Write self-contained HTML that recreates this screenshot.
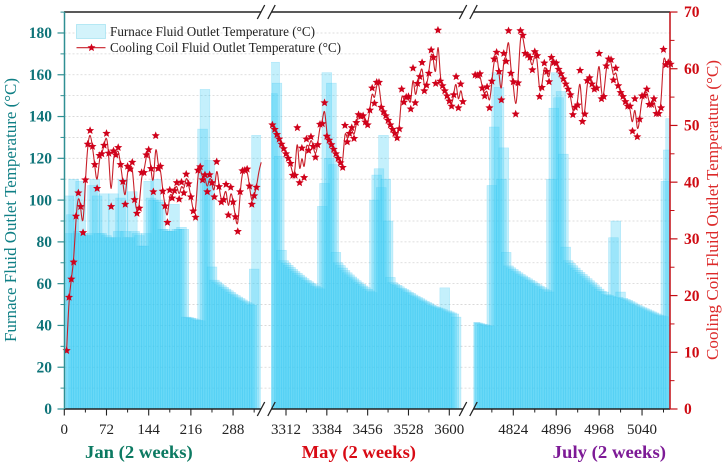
<!DOCTYPE html>
<html lang="en">
<head>
<meta charset="utf-8">
<title>Furnace and Cooling Coil Fluid Outlet Temperature</title>
<style>
html,body{margin:0;padding:0;background:#fff;}
svg{display:block;font-family:"Liberation Serif",serif;}
</style>
</head>
<body>
<svg id="chart" xmlns="http://www.w3.org/2000/svg" width="724" height="468" viewBox="0 0 724 468">
  <g id="grid"></g>
  <g id="bars"></g>
  <g id="lines"></g>
  <g id="stars"></g>
  <g id="axes"></g>
  <g>
    <rect x="76.5" y="24.5" width="29" height="14" fill="#d3f3fb" stroke="#a9e4f3" stroke-width="0.8"/>
    <text x="110" y="36" font-size="13.5" fill="#222" textLength="205" lengthAdjust="spacingAndGlyphs">Furnace Fluid Outlet Temperature (°C)</text>
    <line x1="76.5" y1="47.7" x2="105.5" y2="47.7" stroke="#c8202a" stroke-width="1.1"/>
    <polygon id="legend-star" fill="#d0021b"/>
    <text x="110" y="52" font-size="13.5" fill="#222" textLength="231" lengthAdjust="spacingAndGlyphs">Cooling Coil Fluid Outlet Temperature (°C)</text>
  </g>
  <text transform="translate(16,342) rotate(-90)" font-size="17" fill="#0f7f85" textLength="264" lengthAdjust="spacingAndGlyphs">Furnace Fluid Outlet Temperature (°C)</text>
  <text transform="translate(718,360) rotate(-90)" font-size="17" fill="#dc2a2a" textLength="300" lengthAdjust="spacingAndGlyphs">Cooling Coil Fluid Outlet Temperature (°C)</text>
  <text x="85" y="458" font-size="18" font-weight="bold" fill="#0c7a62" textLength="107.7" lengthAdjust="spacingAndGlyphs">Jan (2 weeks)</text>
  <text x="301.7" y="458" font-size="18" font-weight="bold" fill="#d80a14" textLength="114.3" lengthAdjust="spacingAndGlyphs">May (2 weeks)</text>
  <text x="552.7" y="458" font-size="18" font-weight="bold" fill="#7d1a96" textLength="113.3" lengthAdjust="spacingAndGlyphs">July (2 weeks)</text>
</svg>
<script>
// ---- data ----
const leftTickValues = [0,20,40,60,80,100,120,140,160,180];
const leftMinorValues = [10,30,50,70,90,110,130,150,170,190];
const rightTickValues = [0,10,20,30,40,50,60,70];
const rightMinorValues = [5,15,25,35,45,55,65];
const gridValues = [10,20,30,40,50,60,70,80,90,100,110,120,130,140,150,160,170,180];

const janMajorHours = [0,72,144,216,288];
const janMinorHours = [36,108,180,252,324];
const mayMajorHours = [3312,3384,3456,3528,3600];
const mayMinorHours = [3348,3420,3492,3564];
const julMajorHours = [4824,4896,4968,5040];
const julMinorHours = [4788,4860,4932,5004,5076];

const sampleHours = 4;
const janStartHour = 4;
const mayStartHour = 3288;
const julStartHour = 4760;

const janFurnace = [84,102,93,110,84,85,109,84,83,83,84,107,110,102,84,84,103,83,82,82,103,82,85,101,110,85,82,82,104,85,84,83,78,78,84,109,101,100,110,100,99,86,86,85,85,85,98,86,86,87,86,44,43.8,43.5,43.2,42.8,42.5,42.2,134,153,110,119,68,61.7,60.8,59.9,59,58.2,57.4,56.6,55.8,55,54.3,53.6,52.9,52.2,51.5,50.9,50.3,49.7,67,131];
const mayFurnace = [151,166,156,121,76,71,69.8,68.8,67.8,66.8,65.8,65,64.1,63.2,62.4,61.6,60.9,60.2,59.5,58.8,58.1,57.5,97,108,161,120,156,117,75,70,68.7,67.5,66.3,65.2,64.2,63.2,62.3,61.4,60.5,59.7,58.9,58.1,57.3,56.5,55.7,100,112,115,106,131,110,90,63,60.5,59.8,59.2,58.5,57.8,57.2,56.6,55.9,55.3,54.6,54,53.4,52.8,52.2,51.6,51,50.4,49.8,49.3,48.8,48.4,48,47.6,58,47,46.5,46,45.5,44];
const julFurnace = [41.5,41.2,40.9,40.6,40.3,40,39.7,107,135,161,154,110,125,75,68.5,67.6,66.8,66,65.2,64.4,63.7,63,62.3,61.6,60.9,60.2,59.5,58.8,58.1,57.4,56.7,56,110,144,161,149,152,122,77.5,71,69.8,68.6,67.5,66.4,65.4,64.4,63.4,62.4,61.4,60.4,59.4,58.4,57.4,56.4,56,54.8,54.4,54,82,90,53.5,56,53,52.5,52,51.4,50.8,50.2,49.6,49,48.5,48,47.5,47,46.5,46,45.5,45,44.6,44.2,109,124,139];

const janCooling = [10.3,19.7,22.9,25.9,34.0,38.1,35.7,31.1,40.4,46.7,49.1,46.3,43.1,38.9,44.7,45.0,46.5,48.6,45.1,35.7,45.5,44.8,46.1,43.1,40.1,36.1,42.8,42.3,43.5,36.9,34.5,35.4,41.7,41.7,44.8,45.7,42.4,38.3,48.2,42.4,42.8,38.4,35.8,32.9,38.6,37.2,38.5,39.9,37.0,40.0,38.1,41.4,39.7,37.4,34.9,33.8,42.1,42.7,40.4,41.3,38.3,41.3,39.9,37.4,43.6,39.2,36.5,36.9,39.6,34.2,39.1,36.5,33.9,31.3,38.3,42.0,42.1,42.3,39.3,36.1,37.6,39.1];
const janLineTail = [42,43.5];
const mayCooling = [50.1,49.3,48.4,47.6,46.7,45.9,45.0,44.2,43.3,41.2,41.2,49.6,39.9,46.0,40.8,47.6,45.6,48.0,46.3,44.4,46.6,50.2,50.3,54.0,48.1,47.4,46.6,45.8,45.0,44.2,43.4,42.6,50.0,47.1,48.6,49.6,47.7,50.5,51.9,51.6,51.7,50.6,50.1,52.7,56.6,53.9,57.6,57.6,53.2,52.4,51.7,50.9,50.1,49.3,48.6,47.8,49.4,56.4,54.1,55.0,55.1,52.9,60.1,54.0,57.4,58.6,61.1,56.1,57.1,59.2,63.3,62.0,57.4,66.8,57.8,57.0,56.1,55.2,54.3,53.4,55.4,58.6,53.1,57.3,54.2];
const julCooling = [58.9,58.8,59.1,56.6,55.2,56.8,53.1,57.8,61.7,62.9,59.5,54.5,62.7,61.3,66.7,59.2,57.7,52.0,57.5,66.7,65.9,62.7,62.4,62.0,59.8,63.0,62.3,55.1,56.7,61.0,59.5,57.7,62.0,61.1,61.0,59.9,59.1,58.2,57.3,56.4,55.4,51.9,53.2,53.6,59.7,50.7,52.0,57.9,58.4,57.3,56.4,56.6,62.7,54.7,55.1,60.5,61.7,61.6,58.0,60.1,57.0,55.8,55.1,54.2,53.4,53.4,49.0,54.7,48.0,51.1,55.2,55.3,56.4,53.7,53.7,54.7,52.1,52.1,53.1,63.4,60.7,61.1,60.8];

// ---- axis functions ----
const baseY = 409;
const topY = 12;
const leftX = 64.5;
const rightX = 670;
function yLeft(v){ return baseY - v * 2.089; }
function yRight(v){ return baseY - v * 5.671; }
function xJan(h){ return 64.3 + h * 0.586; }
function xMay(h){ return 286 + (h - 3312) * 0.567; }
function xJul(h){ return 513.3 + (h - 4824) * 0.596; }

// ---- helpers ----
const NS = 'http://www.w3.org/2000/svg';
function make(tag, parent, attrs){
  const e = document.createElementNS(NS, tag);
  for (const k in attrs) e.setAttribute(k, attrs[k]);
  parent.appendChild(e);
  return e;
}
function starPoints(cx, cy, R){
  const pts = [];
  for (let k = 0; k < 10; k++){
    const r = k % 2 ? R * 0.45 : R;
    const a = -Math.PI / 2 + k * Math.PI / 5;
    pts.push((cx + r * Math.cos(a)).toFixed(2) + ',' + (cy + r * Math.sin(a)).toFixed(2));
  }
  return pts.join(' ');
}
function bSplinePath(p){
  const P = [p[0], p[0]].concat(p, [p[p.length-1], p[p.length-1]]);
  let d = 'M' + p[0][0].toFixed(2) + ' ' + p[0][1].toFixed(2);
  for (let i = 1; i < P.length - 2; i++){
    const a = P[i-1], b = P[i], c = P[i+1], e = P[i+2];
    const c1x = (2*b[0]+c[0])/3, c1y = (2*b[1]+c[1])/3;
    const c2x = (b[0]+2*c[0])/3, c2y = (b[1]+2*c[1])/3;
    const ex = (b[0]+4*c[0]+e[0])/6, ey = (b[1]+4*c[1]+e[1])/6;
    d += 'C' + c1x.toFixed(2) + ' ' + c1y.toFixed(2) + ' ' + c2x.toFixed(2) + ' ' + c2y.toFixed(2) + ' ' + ex.toFixed(2) + ' ' + ey.toFixed(2);
  }
  return d;
}

const gridG = document.getElementById('grid');
const barsG = document.getElementById('bars');
const linesG = document.getElementById('lines');
const starsG = document.getElementById('stars');
const axesG = document.getElementById('axes');
document.getElementById('legend-star').setAttribute('points', starPoints(91.5, 47.7, 4.2));

// ---- grid ----
gridValues.forEach(function(v){
  const g = make('line', gridG, {x1:leftX, x2:rightX, y1:yLeft(v), y2:yLeft(v), stroke:'#d4d4d4', 'stroke-width':0.8, 'stroke-dasharray':'2 2'});
  
  
});

// ---- clip regions for the three broken-axis panels ----
const defs = make('defs', barsG, {});
const panels = [
  {id:'clip-jan', x0:leftX, x1:261, xf:xJan, start:janStartHour, furnace:janFurnace, cooling:janCooling, tail:janLineTail, key:'jan'},
  {id:'clip-may', x0:271, x1:463, xf:xMay, start:mayStartHour, furnace:mayFurnace, cooling:mayCooling, tail:[], key:'may'},
  {id:'clip-jul', x0:473.5, x1:rightX, xf:xJul, start:julStartHour, furnace:julFurnace, cooling:julCooling, tail:[], key:'jul'}
];

panels.forEach(function(pn){
  const cp = make('clipPath', defs, {id:pn.id});
  make('rect', cp, {x:pn.x0, y:topY, width:pn.x1 - pn.x0, height:baseY - topY});
  const group = make('g', barsG, {'clip-path':'url(#' + pn.id + ')'});
  pn.furnace.forEach(function(v, i){
    const cx = pn.xf(pn.start + i * sampleHours);
    const b = make('rect', group, {x:cx - 4.9, y:yLeft(v), width:9.8, height:baseY - yLeft(v), fill:'rgba(60,205,245,0.3)', stroke:'rgba(50,190,235,0.32)', 'stroke-width':0.5});
    
    
  });

  const pts = [];
  pn.cooling.concat(pn.tail).forEach(function(v, i){
    pts.push([pn.xf(pn.start + i * sampleHours), yRight(v)]);
  });
  const path = make('path', linesG, {d:bSplinePath(pts), fill:'none', stroke:'#c8202a', 'stroke-width':1.1});
  
  

  pn.cooling.forEach(function(v, i){
    const s = make('polygon', starsG, {points:starPoints(pn.xf(pn.start + i * sampleHours), yRight(v), 4.3), fill:'#d0021b'});
    
    
  });
});

// ---- axes ----
function axisLine(x1, y1, x2, y2, color, width, name){
  const l = make('line', axesG, {x1:x1, y1:y1, x2:x2, y2:y2, stroke:color, 'stroke-width':width});
  
  
}
function label(x, y, txt, size, weight, color, anchor, name){
  const t = make('text', axesG, {x:x, y:y, 'font-size':size, 'font-weight':weight, fill:color, 'text-anchor':anchor});
  t.textContent = txt;
  
  
}

// black top / bottom axes with breaks
const breaks = [[64, 261],[271.5, 463],[473.5, 670]];
breaks.forEach(function(seg){
  axisLine(seg[0], topY, seg[1], topY, '#222', 1.4, 'top-axis-segment');
  axisLine(seg[0], baseY, seg[1], baseY, '#222', 1.4, 'bottom-axis-segment');
});
[261, 271.5, 463, 473.5].forEach(function(x){
  [topY, baseY].forEach(function(y){
    axisLine(x - 3.7, y + 7, x + 3.7, y - 7, '#222', 1.3, 'axis-break-mark');
  });
});

// left axis
axisLine(leftX, topY, leftX, baseY, '#2f8f93', 1.5, 'left-axis-line');
leftTickValues.forEach(function(v){
  axisLine(57.5, yLeft(v), leftX, yLeft(v), '#2f8f93', 1.2, 'left-major-tick');
  label(52, yLeft(v) + 5.2, String(v), 15.5, 'bold', '#0f7479', 'end', 'left-tick-label');
});
leftMinorValues.forEach(function(v){
  axisLine(60.5, yLeft(v), leftX, yLeft(v), '#2f8f93', 1, 'left-minor-tick');
});

// right axis
axisLine(rightX, topY, rightX, baseY, '#c40d14', 1.5, 'right-axis-line');
rightTickValues.forEach(function(v){
  axisLine(rightX, yRight(v), 677.5, yRight(v), '#c40d14', 1.2, 'right-major-tick');
  label(684, yRight(v) + 5.2, String(v), 15.5, 'bold', '#cf0a12', 'start', 'right-tick-label');
});
rightMinorValues.forEach(function(v){
  axisLine(rightX, yRight(v), 674.5, yRight(v), '#c40d14', 1, 'right-minor-tick');
});

// x ticks
[[janMajorHours, janMinorHours, xJan],[mayMajorHours, mayMinorHours, xMay],[julMajorHours, julMinorHours, xJul]].forEach(function(set){
  set[0].forEach(function(h){
    axisLine(set[2](h), baseY, set[2](h), 415.5, '#222', 1.1, 'x-major-tick');
    label(set[2](h), 434, String(h), 15, 'normal', '#222', 'middle', 'x-tick-label');
  });
  set[1].forEach(function(h){
    axisLine(set[2](h), baseY, set[2](h), 412.5, '#222', 1, 'x-minor-tick');
  });
});
</script>
</body>
</html>
